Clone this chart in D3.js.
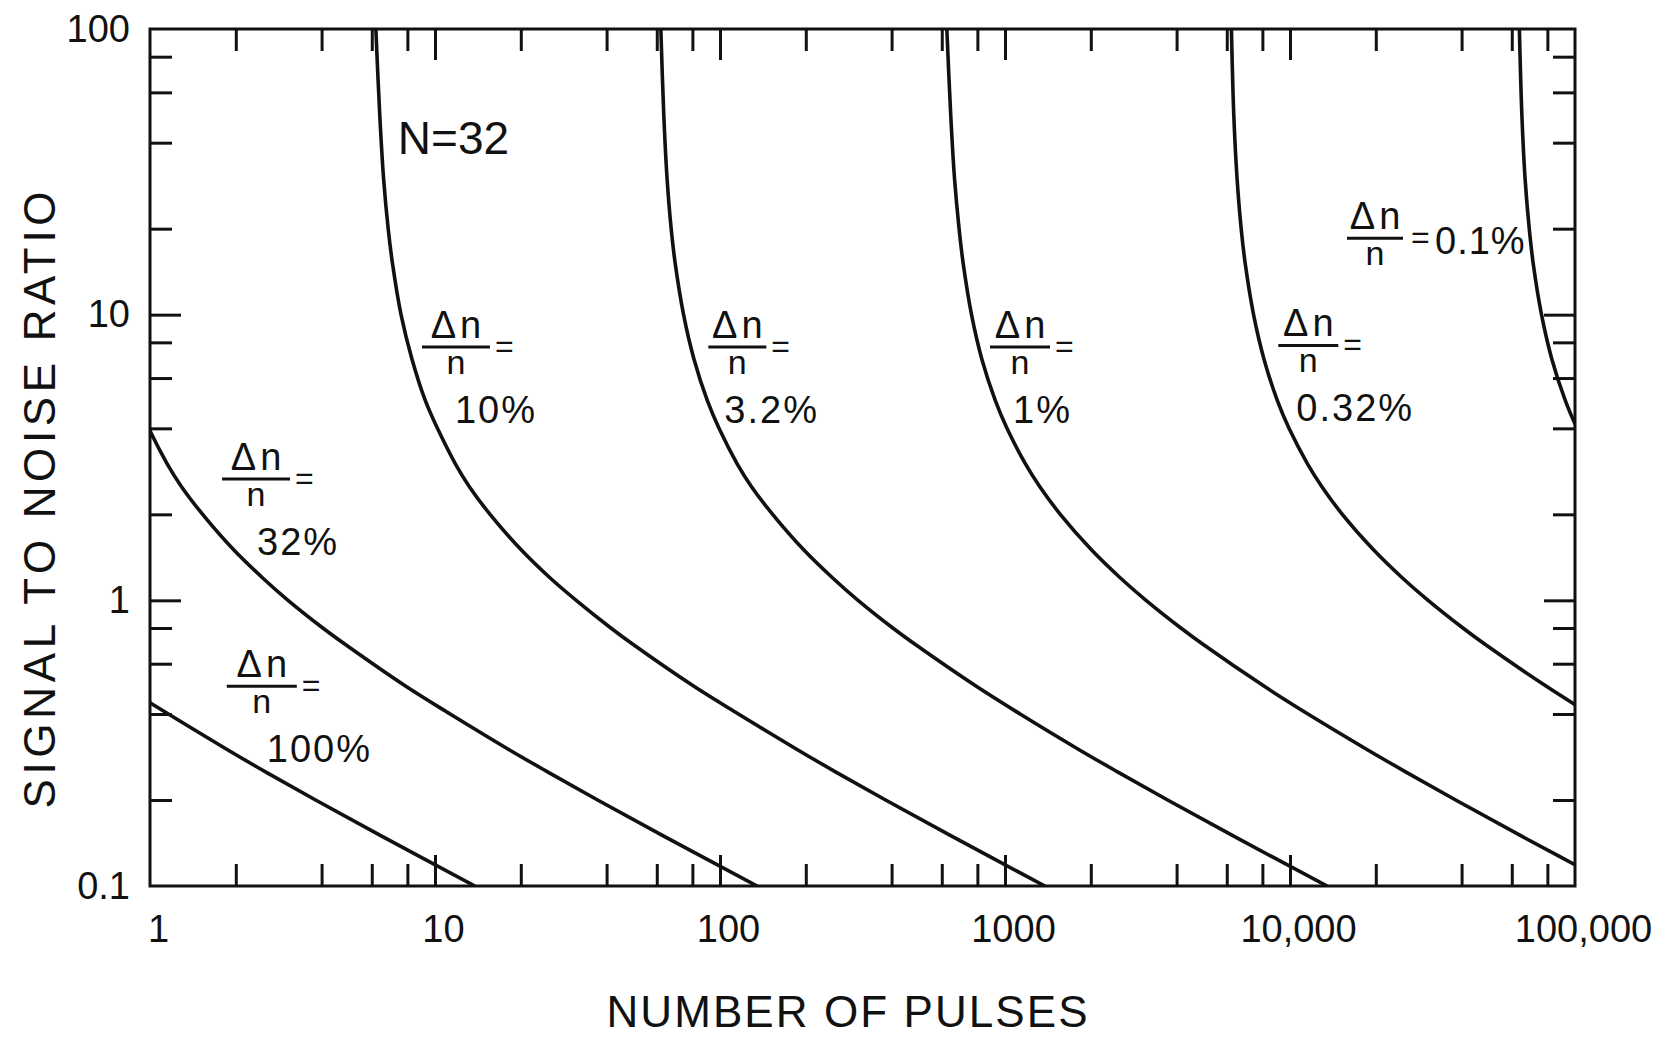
<!DOCTYPE html>
<html><head><meta charset="utf-8">
<script src="https://cdn.jsdelivr.net/npm/d3@7"></script>
<style>
html,body{margin:0;padding:0;background:#fff;}
svg{display:block;}
text{font-family:"Liberation Sans", Arial, sans-serif; fill:#111;}
</style></head><body>
<svg id="chart" width="1669" height="1044"></svg>
<script>
// ---- data ----
const snr = [100, 50, 30, 20, 15, 10, 7, 5, 4, 3, 2.5, 2, 1.5, 1.2, 1, 0.8, 0.7, 0.5, 0.4, 0.3, 0.25, 0.2, 0.15, 0.1];
const pulses100 = [null, null, null, null, null, null, null, null, null, null, null, null, null, null, null, null, null, 0.81, 1.16, 1.87, 2.56, 3.81, 6.45, 13.8];
const pulses32  = [null, null, null, null, null, null, null, 0.90, 0.99, 1.15, 1.29, 1.53, 1.97, 2.48, 3.05, 4.04, 4.85, 7.9, 11.3, 18.2, 25, 37.2, 63, 135];
const pulses10  = [6.2, 6.4, 6.6, 6.85, 7.1, 7.6, 8.3, 9.25, 10.2, 11.8, 13.2, 15.6, 20.1, 25.3, 31.3, 41.4, 49.6, 81, 116, 187, 256, 381, 645, 1380];
const pulses3_2 = [62, 63.5, 65.2, 67.4, 69.7, 74.5, 81, 90.3, 99.2, 115, 129, 153, 197, 248, 305, 404, 485, 793, 1130, 1820, 2500, 3720, 6300, 13500];
const pulses1   = [625, 645, 665, 690, 714, 763, 829, 925, 1016, 1181, 1325, 1563, 2014, 2535, 3125, 4141, 4963, 8125, 11560, 18680, 25630, 38130, 64500, 138000];
const pulses0_32 = [6230, 6350, 6520, 6740, 6970, 7450, 8100, 9030, 9920, 11530, 12940, 15260, 19670, 24750, 30520, 40440, 48460, 79350, 112900, null, null, null, null, null];
const pulses0_1 = [63800, 65100, 66800, 69100, 71400, 76300, 82900, 92500, 101600, null, null, null, null, null, null, null, null, null, null, null, null, null, null, null];
const seriesNames = ["100%", "32%", "10%", "3.2%", "1%", "0.32%", "0.1%"];
const seriesValues = [pulses100, pulses32, pulses10, pulses3_2, pulses1, pulses0_32, pulses0_1];

const xTickValues = [1, 10, 100, 1000, 10000, 100000];
const xTickLabels = ["1", "10", "100", "1000", "10,000", "100,000"];
const yTickValues = [0.1, 1, 10, 100];
const yTickLabels = ["0.1", "1", "10", "100"];
const xMajor = [10, 100, 1000, 10000];
const yMajor = [1, 10];
const xTitle = "NUMBER OF PULSES";
const yTitle = "SIGNAL TO NOISE RATIO";
const note = "N=32";

// ---- layout ----
const W = 1669, H = 1044;
const L = 150, R = 1575, T = 29, B = 886;
const svg = d3.select("#chart");
const x = d3.scaleLog().domain([1, 100000]).range([L, R]);
const y = d3.scaleLog().domain([0.1, 100]).range([B, T]);

const xMinor = [1, 10, 100, 1000, 10000].flatMap(d => [2, 4, 6, 8].map(m => m * d));
const yMinor = [0.1, 1, 10].flatMap(d => [2, 4, 6, 8].map(m => +(m * d).toPrecision(3)));

const ink = "#111";
function styleTicks(g) {
  g.select(".domain").remove();
  g.selectAll(".tick line").attr("stroke", ink).attr("stroke-width", 3);
}
const minorLen = 22, majorLen = 31;
svg.append("g").attr("transform", `translate(0,${B})`).call(d3.axisBottom(x).tickValues(xMinor).tickSize(-minorLen).tickFormat("")).call(styleTicks);
svg.append("g").attr("transform", `translate(0,${B})`).call(d3.axisBottom(x).tickValues(xMajor).tickSize(-majorLen).tickFormat("")).call(styleTicks);
svg.append("g").attr("transform", `translate(0,${T})`).call(d3.axisTop(x).tickValues(xMinor).tickSize(-minorLen).tickFormat("")).call(styleTicks);
svg.append("g").attr("transform", `translate(0,${T})`).call(d3.axisTop(x).tickValues(xMajor).tickSize(-majorLen).tickFormat("")).call(styleTicks);
svg.append("g").attr("transform", `translate(${L},0)`).call(d3.axisLeft(y).tickValues(yMinor).tickSize(-minorLen).tickFormat("")).call(styleTicks);
svg.append("g").attr("transform", `translate(${L},0)`).call(d3.axisLeft(y).tickValues(yMajor).tickSize(-majorLen).tickFormat("")).call(styleTicks);
svg.append("g").attr("transform", `translate(${R},0)`).call(d3.axisRight(y).tickValues(yMinor).tickSize(-minorLen).tickFormat("")).call(styleTicks);
svg.append("g").attr("transform", `translate(${R},0)`).call(d3.axisRight(y).tickValues(yMajor).tickSize(-majorLen).tickFormat("")).call(styleTicks);

// tick labels
const xl = svg.append("g").attr("transform", `translate(0,${B})`)
  .call(d3.axisBottom(x).tickValues(xTickValues).tickFormat((d, i) => xTickLabels[i]).tickSize(0).tickPadding(29));
xl.select(".domain").remove();
xl.attr("font-family", "Liberation Sans, Arial, sans-serif").attr("font-size", 38);
xl.selectAll("text").attr("fill", ink).attr("dx", 8);

const yl = svg.append("g").attr("transform", `translate(${L},0)`)
  .call(d3.axisLeft(y).tickValues(yTickValues).tickFormat((d, i) => yTickLabels[i]).tickSize(0).tickPadding(20));
yl.select(".domain").remove();
yl.attr("font-family", "Liberation Sans, Arial, sans-serif").attr("font-size", 38);
yl.selectAll("text").attr("fill", ink);

// frame
svg.append("rect").attr("x", L).attr("y", T).attr("width", R - L).attr("height", B - T)
  .attr("fill", "none").attr("stroke", ink).attr("stroke-width", 3);

// curves
svg.append("clipPath").attr("id", "plotClip").append("rect")
  .attr("x", L).attr("y", T).attr("width", R - L).attr("height", B - T);
const line = d3.line()
  .defined(d => d[0] != null)
  .x(d => x(d[0])).y(d => y(d[1]))
  .curve(d3.curveCatmullRom.alpha(0.5));
const curves = svg.append("g").attr("clip-path", "url(#plotClip)");
seriesValues.forEach((vals, k) => {
  const pts = vals.map((v, i) => [v, snr[i]]).filter(d => d[0] != null);
  curves.append("path").datum(pts).attr("d", line)
    .attr("fill", "none").attr("stroke", ink).attr("stroke-width", 3.6)
    .attr("stroke-linejoin", "round").attr("data-name", seriesNames[k]);
});

// axis titles
svg.append("text").attr("x", 847).attr("y", 1027).attr("text-anchor", "middle")
  .attr("font-size", 44).attr("textLength", 481).attr("lengthAdjust", "spacing").text(xTitle);
svg.append("text").attr("transform", "translate(55,500) rotate(-90)").attr("text-anchor", "middle")
  .attr("font-size", 44).attr("textLength", 617).attr("lengthAdjust", "spacing").text(yTitle);

// N=32
svg.append("text").attr("x", x(6.3) + 20).attr("y", 154).attr("font-size", 46).text(note);

// fraction labels
const annotations = [
  { label: "100%", at: [1.86, 0.50], pctDx: 40, bw: 70 },
  { label: "32%", at: [1.79, 2.66], pctDx: 35, bw: 68 },
  { label: "10%", at: [9.0, 7.7], pctDx: 33, bw: 68 },
  { label: "3.2%", at: [91, 7.7], pctDx: 16, bw: 58 },
  { label: "1%", at: [886, 7.7], pctDx: 23, bw: 60 },
  { label: "0.32%", at: [9100, 7.8], pctDx: 18, bw: 60 },
  { label: "0.1%", at: [15850, 18.5], inline: true, bw: 56 }
];
annotations.forEach(a => {
  const g = svg.append("g").attr("transform", `translate(${x(a.at[0])},${y(a.at[1])})`);
  g.append("text").attr("x", a.bw / 2 + 2).attr("y", -9).attr("text-anchor", "middle")
    .attr("font-size", 38).attr("letter-spacing", 4).text("Δn");
  g.append("line").attr("x1", 0).attr("x2", a.bw).attr("y1", 0).attr("y2", 0)
    .attr("stroke", ink).attr("stroke-width", 3);
  g.append("text").attr("x", a.bw / 2).attr("y", 27).attr("text-anchor", "middle")
    .attr("font-size", 34).text("n");
  if (a.inline) {
    g.append("text").attr("x", a.bw + 8).attr("y", 10).attr("font-size", 32).text("=");
    g.append("text").attr("x", a.bw + 32).attr("y", 16).attr("font-size", 38).attr("letter-spacing", 1).text(a.label);
  } else {
    g.append("text").attr("x", a.bw + 5).attr("y", 10).attr("font-size", 32).text("=");
    g.append("text").attr("x", a.pctDx).attr("y", 76).attr("font-size", 38).attr("letter-spacing", 2).text(a.label);
  }
});
</script>
</body></html>
